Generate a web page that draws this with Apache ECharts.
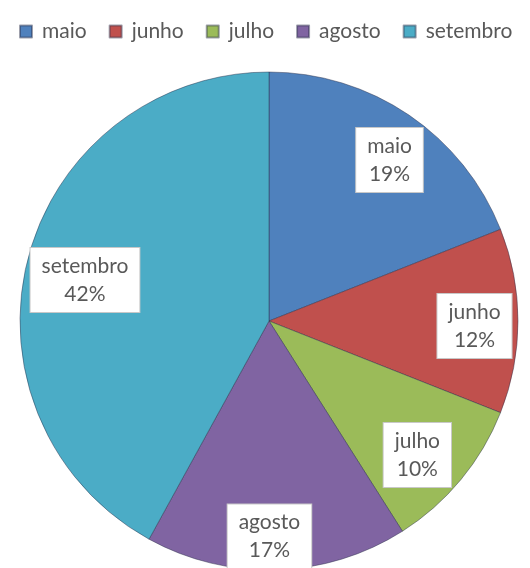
<!DOCTYPE html>
<html><head><meta charset="utf-8">
<script src="https://cdn.jsdelivr.net/npm/echarts@6/dist/echarts.min.js"></script>
<style>html,body{margin:0;padding:0;background:#fff}#c{width:530px;height:568px}</style>
</head><body><div id="c"></div>
<script>
const categories = ['maio', 'junho', 'julho', 'agosto', 'setembro'];
const values = [19, 12, 10, 17, 42];
const colors = ['#4F81BD', '#C0504D', '#9BBB59', '#8064A2', '#4BACC6'];
// label fine-tuning (style only)
const labelOffsets = [[5, 9], [0, 5], [-10, 3], [-6, 10], [15, 10]];

const data = categories.map((n, i) => ({ name: n, value: values[i], itemStyle: { color: colors[i] } }));
const FONT = 'Lato';
const chart = echarts.init(document.getElementById('c'));
chart.setOption({
  animation: false,
  legend: {
    top: 16, left: 14,
    itemWidth: 12, itemHeight: 12, itemGap: 22,
    icon: 'rect',
    textStyle: { fontFamily: FONT, fontSize: 21, color: '#595959', padding: [0, 0, 0, 5] },
    data: categories
  },
  series: [
    {
      type: 'pie', center: [269, 321], radius: [0, 249],
      startAngle: 90, clockwise: true, silent: true,
      itemStyle: { borderColor: 'rgba(40,45,70,0.45)', borderWidth: 1 },
      label: { show: false }, labelLine: { show: false },
      data: data
    },
    {
      type: 'pie', center: [269, 321], radius: [156, 249],
      startAngle: 90, clockwise: true, silent: true,
      itemStyle: { color: 'rgba(0,0,0,0)', borderWidth: 0 },
      label: {
        show: true, position: 'inside',
        formatter: p => p.name + '\n' + p.value + '%',
        fontFamily: FONT, fontSize: 21, lineHeight: 28, color: '#595959',
        backgroundColor: '#ffffff', borderColor: '#c8c8c8', borderWidth: 1,
        padding: [4, 11]
      },
      labelLine: { show: false },
      data: categories.map((n, i) => ({ name: n, value: values[i], label: { offset: labelOffsets[i] } }))
    }
  ]
});
</script></body></html>
